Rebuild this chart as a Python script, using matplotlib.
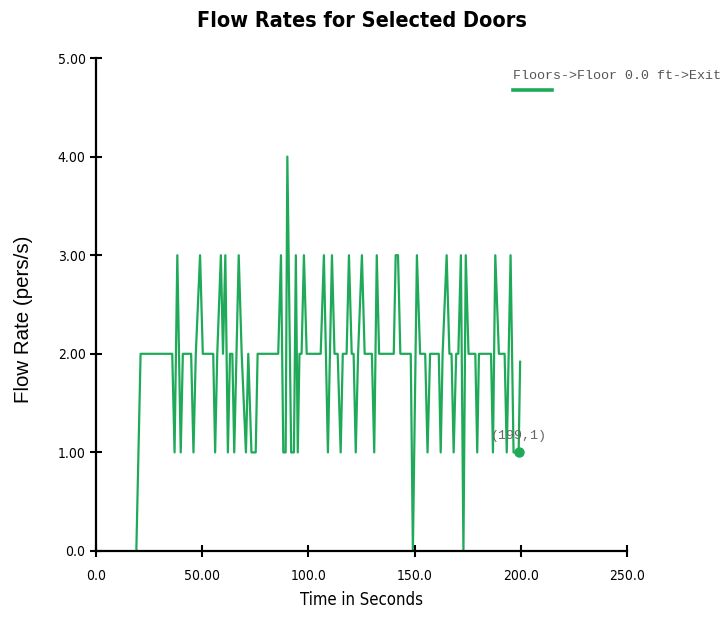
import matplotlib
matplotlib.use('agg')
import matplotlib.pyplot as plt
from matplotlib.lines import Line2D

# door flow rate samples (seconds, persons per second)
times = [19, 21, 35.9, 37.0, 38.3, 39.9, 40.9, 44.8, 45.9, 47.0, 49.0, 50.3,
         55.2, 56.1, 57.1, 58.8, 59.8, 60.9, 62.1, 63.1, 64.2, 65.1, 67.2,
         68.6, 70.6, 71.7, 73.2, 75.2, 76.1, 85.8, 87.1, 88.2, 89.3, 90.1,
         91.9, 93.2, 94.1, 95.0, 95.8, 96.8, 97.9, 99.2, 105.8, 107.3, 109.2,
         111.1, 112.3, 113.8, 115.2, 116.2, 118.0, 119.1, 120.4, 121.3, 122.3,
         123.4, 125.2, 126.5, 129.9, 131.0, 132.2, 133.3, 140.2, 141.1, 142.2,
         143.3, 148.2, 149.2, 151.1, 152.6, 155.0, 156.1, 157.3, 161.4, 162.3,
         163.2, 165.1, 166.4, 167.4, 168.4, 169.6, 170.6, 171.8, 173.0, 174.1,
         175.4, 178.6, 179.5, 180.3, 186.0, 186.9, 188.0, 189.7, 192.4, 193.4,
         195.2, 196.6, 199.0, 199.7]
rates = [0, 2, 2, 1, 3, 1, 2, 2, 1, 2, 3, 2,
         2, 1, 2, 3, 2, 3, 1, 2, 2, 1, 3,
         2, 1, 2, 1, 1, 2, 2, 3, 1, 1, 4,
         1, 1, 3, 1, 2, 2, 3, 2, 2, 3, 1,
         3, 2, 2, 1, 2, 2, 3, 2, 2, 1,
         2, 3, 2, 2, 1, 3, 2, 2, 3, 3,
         2, 2, 0, 3, 2, 2, 1, 2, 2, 1,
         2, 3, 2, 2, 1, 2, 2, 3, 0, 3,
         2, 2, 1, 2, 2, 1, 3, 2, 2, 1,
         3, 1, 1, 1.92]

marker_pt = (199, 1)
series_name = 'Floors->Floor 0.0 ft->Exit'

xticks = [0, 50, 100, 150, 200, 250]
xticklabels = ['0.0', '50.00', '100.0', '150.0', '200.0', '250.0']
yticks = [0, 1, 2, 3, 4, 5]
yticklabels = ['0.0', '1.00', '2.00', '3.00', '4.00', '5.00']

green = '#1faa59'
narrow = dict(family=['Liberation Sans Narrow', 'DejaVu Sans'],
              stretch='condensed')

fig = plt.figure(figsize=(7.26, 6.24), dpi=100)
ax = fig.add_axes([0.1322, 0.117, 0.7314, 0.790])

ax.plot(times, rates, color=green, lw=1.6)
ax.plot(*marker_pt, 'o', color=green, ms=6.5)
ax.annotate('(%d,%d)' % marker_pt, marker_pt, xytext=(0, 10),
            textcoords='offset pixels', ha='center', va='bottom',
            family='Liberation Mono', fontsize=9.6, color='#666666')

ax.set_xlim(0, 250)
ax.set_ylim(0, 5)
ax.set_xticks(xticks)
ax.set_xticklabels(xticklabels, fontsize=10, **narrow)
ax.set_yticks(yticks)
ax.set_yticklabels(yticklabels, fontsize=10, **narrow)
ax.tick_params(direction='inout', length=8, width=1.5, color='black')
ax.tick_params(axis='x', pad=9)

for side in ['top', 'right']:
    ax.spines[side].set_visible(False)
for side in ['left', 'bottom']:
    ax.spines[side].set_linewidth(1.6)

ax.set_xlabel('Time in Seconds', fontsize=12, labelpad=6, **narrow)
ax.set_ylabel('Flow Rate (pers/s)', family='Liberation Sans', fontsize=14.8)
ax.yaxis.set_label_coords(-0.118, 0.47)

fig.text(0.4986, 0.966, 'Flow Rates for Selected Doors', ha='center',
         va='center', fontsize=15.5, fontweight='bold', **narrow)

# legend: label with a short line under it
fig.text(0.7066, 0.878, series_name, family='Liberation Mono', fontsize=9.6,
         color='#555555', va='center', ha='left')
fig.add_artist(Line2D([0.7066, 0.760], [0.856, 0.856], color=green, lw=2.6,
                      transform=fig.transFigure))

fig.savefig('out.png', dpi=100)
